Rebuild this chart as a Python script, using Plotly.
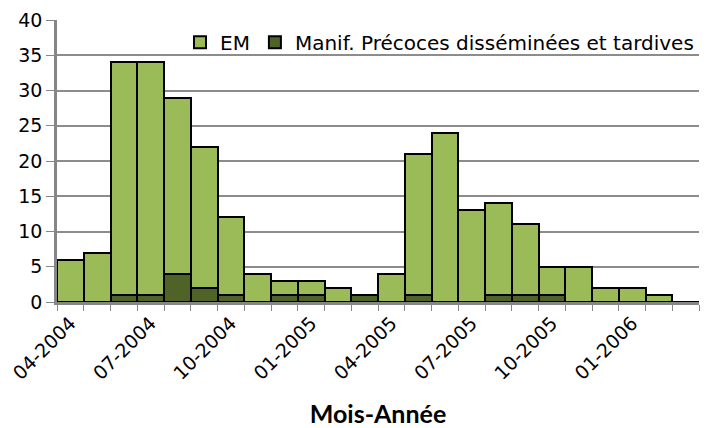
import plotly.graph_objects as go

months = ["04-2004", "05-2004", "06-2004", "07-2004", "08-2004", "09-2004",
          "10-2004", "11-2004", "12-2004", "01-2005", "02-2005", "03-2005",
          "04-2005", "05-2005", "06-2005", "07-2005", "08-2005", "09-2005",
          "10-2005", "11-2005", "12-2005", "01-2006", "02-2006", "03-2006"]
em = [6, 7, 33, 33, 25, 20, 11, 4, 2, 2, 2, 0, 4, 20, 24, 13, 13, 10, 4, 5, 2, 2, 1, 0]
manif = [0, 0, 1, 1, 4, 2, 1, 0, 1, 1, 0, 1, 0, 1, 0, 0, 1, 1, 1, 0, 0, 0, 0, 0]
tick_text = [m if i % 3 == 0 else "" for i, m in enumerate(months)]

fig = go.Figure()
fig.add_trace(go.Bar(x=months, y=manif, name="Manif. Précoces disséminées et tardives",
                     marker=dict(color="#4F6228", line=dict(color="black", width=2)),
                     legendrank=2))
fig.add_trace(go.Bar(x=months, y=em, name="EM",
                     marker=dict(color="#9BBB59", line=dict(color="black", width=2)),
                     legendrank=1))

fig.update_layout(
    width=715, height=428,
    barmode="stack", bargap=0,
    plot_bgcolor="white", paper_bgcolor="white",
    margin=dict(l=57, r=16, t=20, b=126),
    font=dict(family="DejaVu Sans", color="black"),
    showlegend=True,
    legend=dict(orientation="h", x=1.0, xanchor="right", y=0.99, yanchor="top",
                font=dict(size=20), bgcolor="rgba(0,0,0,0)",
                itemwidth=30, traceorder="normal", tracegroupgap=0),
    xaxis=dict(type="category", tickmode="array", tickvals=months, ticktext=tick_text,
               tickangle=-45, tickfont=dict(size=19), tickson="boundaries",
               ticks="outside", ticklen=6, tickcolor="#868686",
               showline=True, linecolor="#868686", linewidth=2.5,
               showgrid=False, range=[-0.5, len(months) - 0.5], automargin=False,
               title=dict(text="<b>Mois-Année</b>", font=dict(family="Lato", size=25), standoff=27)),
    yaxis=dict(range=[0, 40], dtick=5, tickfont=dict(size=19), automargin=False,
               showgrid=True, gridcolor="#8C8C8C", gridwidth=1.5,
               showline=True, linecolor="#868686", linewidth=2.5,
               ticks="outside", ticklen=8, tickcolor="#868686", zeroline=False),
)

fig.write_html("out.html", config={"displayModeBar": False},
               post_script="document.body.style.margin='0';window.dispatchEvent(new Event('resize'));")
